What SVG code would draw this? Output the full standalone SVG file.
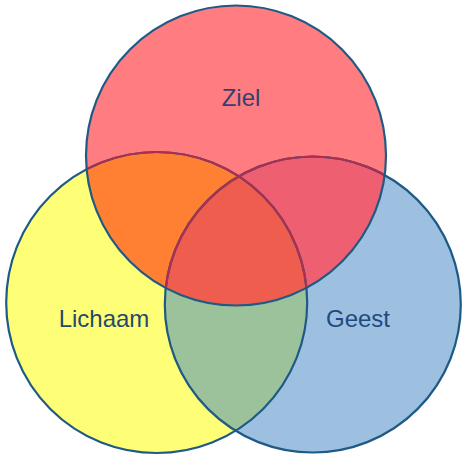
<svg xmlns="http://www.w3.org/2000/svg" width="464" height="458" viewBox="0 0 464 458">
  <defs>
    <clipPath id="cR"><circle cx="236" cy="155.5" r="150"/></clipPath>
    <clipPath id="cY"><circle cx="156.7" cy="302.5" r="150.5"/></clipPath>
    <clipPath id="cB"><circle cx="312.8" cy="304.5" r="148"/></clipPath>
    <style>
      .edge { fill: none; stroke: #1F5A85; stroke-width: 2.2; }
      .inner { fill: none; stroke: #A93050; stroke-width: 2.2; }
      .lbl { font-family: "Liberation Sans", Arial, sans-serif; font-size: 24px; text-anchor: middle; }
    </style>
  </defs>
  <rect width="464" height="458" fill="#ffffff"/>
  <g id="fills">
    <circle cx="156.7" cy="302.5" r="150.5" fill="#FFFF77"/>
    <circle cx="312.8" cy="304.5" r="148" fill="#9DC0E0"/>
    <circle cx="236" cy="155.5" r="150" fill="#FF7C80"/>
    <g clip-path="url(#cY)"><circle cx="312.8" cy="304.5" r="148" fill="#9CC29C"/></g>
    <g clip-path="url(#cY)"><circle cx="236" cy="155.5" r="150" fill="#FF8033"/></g>
    <g clip-path="url(#cB)"><circle cx="236" cy="155.5" r="150" fill="#EE5F72"/></g>
    <g clip-path="url(#cY)"><g clip-path="url(#cB)"><circle cx="236" cy="155.5" r="150" fill="#EE5D4E"/></g></g>
  </g>
  <g id="lichaam">
    <circle class="edge" cx="156.7" cy="302.5" r="150.5"/>
    <text class="lbl" x="104" y="327" fill="#1F4A6E">Lichaam</text>
  </g>
  <g id="geest">
    <circle class="edge" cx="312.8" cy="304.5" r="148"/>
    <text class="lbl" x="358" y="327" fill="#1F4A80">Geest</text>
  </g>
  <g id="inner-arcs" clip-path="url(#cR)">
    <circle class="inner" cx="156.7" cy="302.5" r="150.5"/>
    <circle class="inner" cx="312.8" cy="304.5" r="148"/>
  </g>
  <g id="ziel">
    <circle class="edge" cx="236" cy="155.5" r="150"/>
    <text class="lbl" x="241" y="106" fill="#363F70">Ziel</text>
  </g>
</svg>
